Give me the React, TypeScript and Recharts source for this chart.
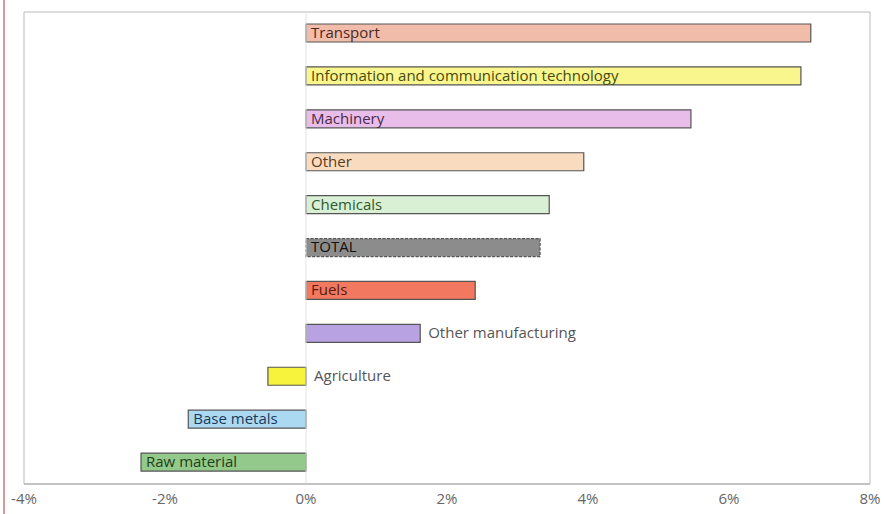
import React from "react";
import {
  BarChart,
  Bar,
  XAxis,
  YAxis,
  Cell,
  LabelList,
  ReferenceLine,
  ReferenceArea,
} from "recharts";

const CATEGORIES = [
  "Transport",
  "Information and communication technology",
  "Machinery",
  "Other",
  "Chemicals",
  "TOTAL",
  "Fuels",
  "Other manufacturing",
  "Agriculture",
  "Base metals",
  "Raw material",
];

const VALUES = [7.16, 7.02, 5.46, 3.94, 3.45, 3.32, 2.4, 1.62, -0.54, -1.67, -2.34];

const X_TICKS = [-4, -2, 0, 2, 4, 6, 8];

const FILLS = [
  "#f2bcaa",
  "#f8f68c",
  "#e9bde9",
  "#f9dcc0",
  "#daf0d4",
  "#8c8c8c",
  "#f2795f",
  "#b9a2e2",
  "#f7f23c",
  "#acd9f2",
  "#93c98a",
];

const TEXT_COLORS = [
  "#4a2a22",
  "#4a4a10",
  "#4a2a4a",
  "#5a3a20",
  "#2f5a2f",
  "#111111",
  "#5a1a10",
  "#555555",
  "#555555",
  "#1a3a5a",
  "#1f3f1a",
];

const data = CATEGORIES.map((name, i) => ({ name, value: VALUES[i] }));

const FONT = "'Open Sans', 'DejaVu Sans', sans-serif";
const CHAR_W = 8.1;

function BarLabel(props: any) {
  const { x, y, width, height, index } = props;
  const text = CATEGORIES[index];
  const left = Math.min(x, x + width);
  const right = Math.max(x, x + width);
  const barW = right - left;
  const textW = text.length * CHAR_W;
  const inside = textW + 8 < barW;
  // zero sits on the right edge of negative bars, the left edge of positive ones
  const zero = VALUES[index] < 0 ? right : left;
  const tx = inside ? left + 5 : Math.max(right, zero) + 8;
  return (
    <text
      x={tx}
      y={y + height / 2}
      dy="0.33em"
      fontFamily={FONT}
      fontSize={15}
      fill={inside ? TEXT_COLORS[index] : "#555"}
    >
      {text}
    </text>
  );
}

export default function App() {
  return (
    <div
      style={{
        position: "absolute",
        left: 0,
        top: 0,
        width: 884,
        height: 514,
        background: "#fff",
      }}
    >
      <div
        style={{
          position: "absolute",
          left: 3,
          top: 0,
          width: 2,
          height: 514,
          background: "#d79a9a",
        }}
      />
      <BarChart
        width={884}
        height={514}
        data={data}
        layout="vertical"
        margin={{ top: 12, right: 14, bottom: 0, left: 24 }}
      >
        <XAxis
          type="number"
          domain={[-4, 8]}
          ticks={X_TICKS}
          tickFormatter={(v: number) => `${v}%`}
          axisLine={{ stroke: "#aaa" }}
          tickLine={false}
          tick={{ fill: "#666", fontSize: 15, fontFamily: FONT }}
          tickMargin={3}
          height={30}
        />
        <YAxis type="category" dataKey="name" hide width={0} />
        <ReferenceArea x1={-4} x2={8} fill="none" stroke="#bbb" strokeWidth={1} ifOverflow="visible" />
        <ReferenceLine x={0} stroke="#e2e2e2" />
        <Bar
          dataKey="value"
          barSize={18}
          stroke="#555"
          strokeWidth={1.2}
          isAnimationActive={false}
        >
          {data.map((d, i) => (
            <Cell
              key={d.name}
              fill={FILLS[i]}
              strokeDasharray={d.name === "TOTAL" ? "3 1.5" : undefined}
            />
          ))}
          <LabelList dataKey="name" content={<BarLabel />} />
        </Bar>
      </BarChart>
    </div>
  );
}
